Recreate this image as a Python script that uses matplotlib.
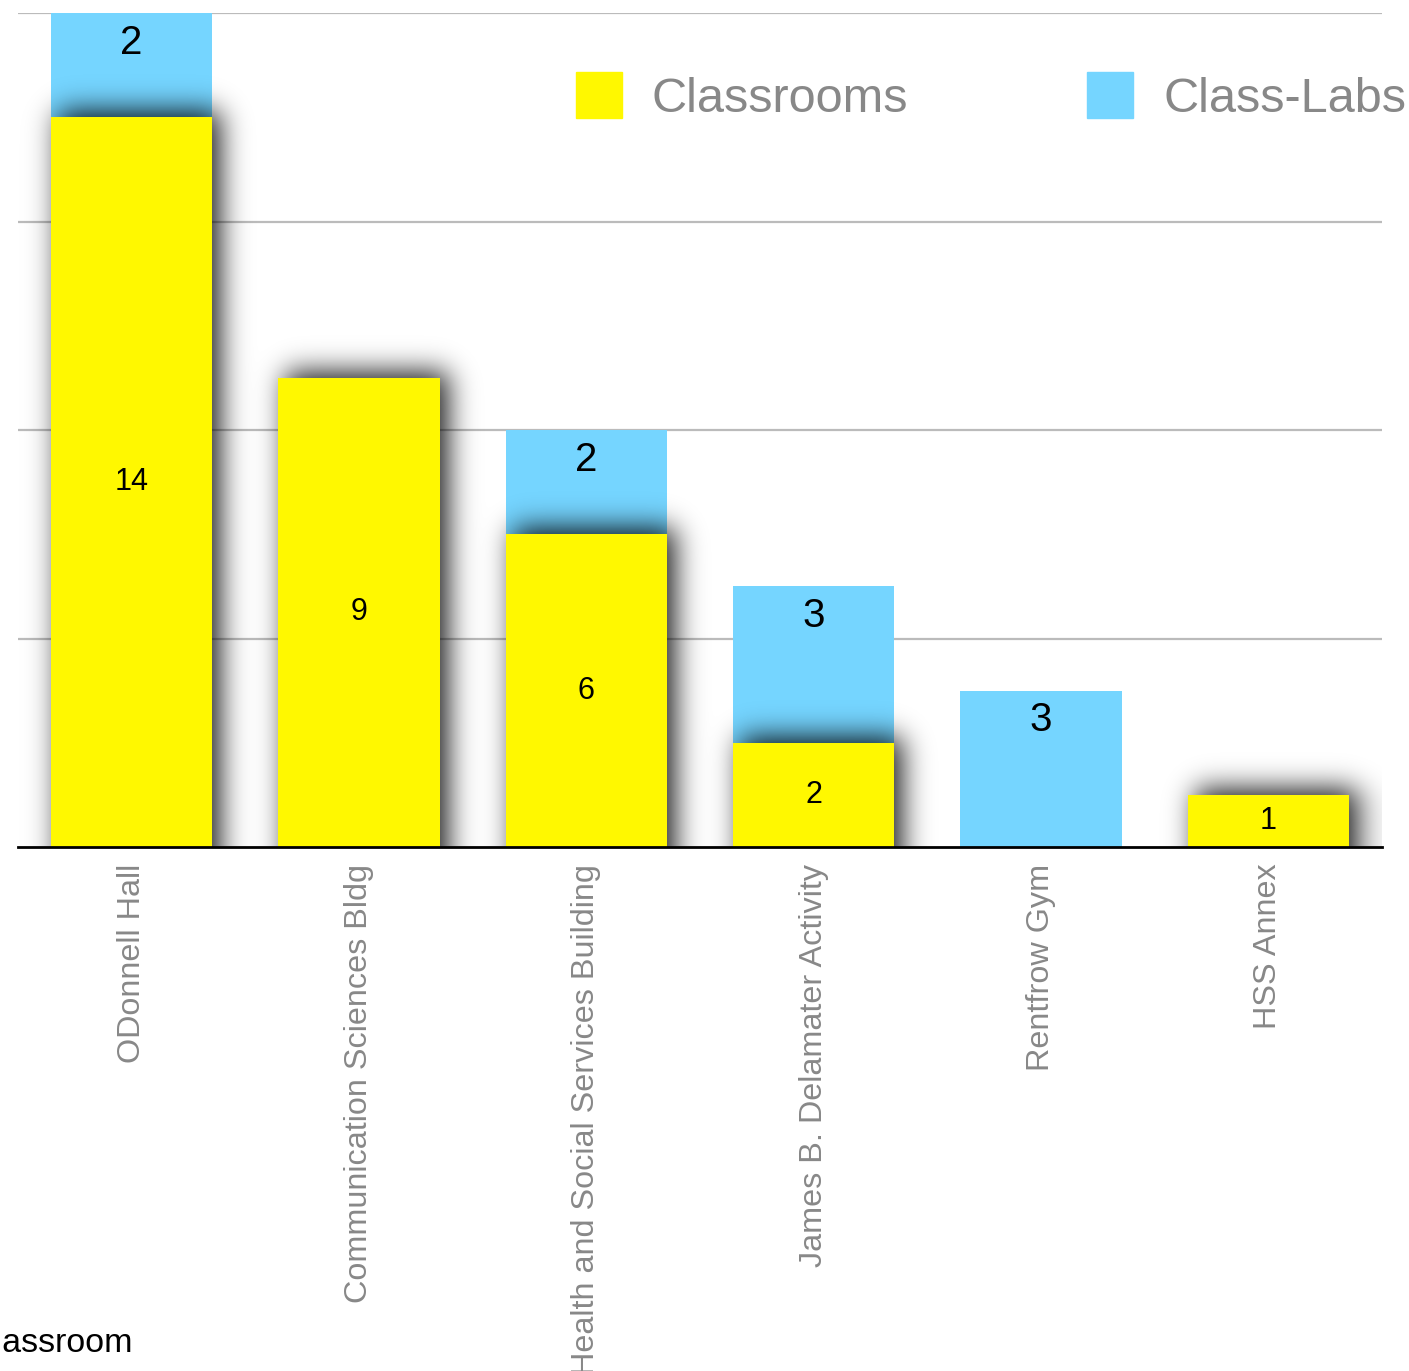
"""Stacked bars: classrooms vs class-labs per building, with a soft drop shadow."""
import numpy as np
import matplotlib
matplotlib.use('Agg')
import matplotlib.pyplot as plt
from matplotlib.patches import Rectangle

buildings = ['ODonnell Hall', 'Communication Sciences Bldg',
             'Health and Social Services Building', 'James B. Delamater Activity',
             'Rentfrow Gym', 'HSS Annex']
classrooms = [14, 9, 6, 2, 0, 1]
class_labs = [2, 0, 2, 3, 3, 0]

YELLOW = '#FFF800'
BLUE = '#75D5FF'
GRAY = '#888888'

plt.rcParams['font.family'] = ['Liberation Sans', 'DejaVu Sans']

W_PX, H_PX = 1409, 1371
fig = plt.figure(figsize=(W_PX / 100, H_PX / 100), dpi=100)
ax_left, ax_right, ax_top, ax_bot = 18, 1382, 13, 847
ax = fig.add_axes([ax_left / W_PX, 1 - ax_bot / H_PX,
                   (ax_right - ax_left) / W_PX, (ax_bot - ax_top) / H_PX])

x = np.arange(len(buildings))
width = 0.71
xlim = (-0.5, 5.5)
ylim = (0, 16)

# gridlines
ax.set_axisbelow(True)
ax.set_yticks([4, 8, 12, 16])
ax.yaxis.grid(True, color='#bbbbbb', lw=1.6)
ax.tick_params(axis='y', length=0, labelleft=False)

# blue segments sit on top of the yellow ones
ax.bar(x, class_labs, width, bottom=classrooms, color=BLUE, zorder=2)

# soft shadow behind the yellow bars, computed in pixel space
pw, ph = ax_right - ax_left, ax_bot - ax_top
cols = xlim[0] + (np.arange(pw) + 0.5) / pw * (xlim[1] - xlim[0])
rows = ylim[1] - (np.arange(ph) + 0.5) / ph * (ylim[1] - ylim[0])
shift_x, shift_y = 8 / pw * 6, 6 / ph * 16
mask = np.zeros((ph, pw))
for xi, v in zip(x, classrooms):
    if v <= 0:
        continue
    cm = (cols >= xi - width / 2 + shift_x) & (cols <= xi + width / 2 + shift_x)
    rm = (rows >= 0) & (rows <= v + shift_y)
    mask[np.ix_(rm, cm)] = 1.0


def gauss_matrix(n, s):
    idx = np.arange(n)
    k = np.exp(-((idx[:, None] - idx[None, :]) ** 2) / (2 * s * s))
    return k / k.sum(axis=1, keepdims=True)


sigma = 14
blur = gauss_matrix(ph, sigma) @ mask @ gauss_matrix(pw, sigma).T
alpha = np.clip(blur * 1.25, 0, 1) * 0.72
shadow = np.zeros((ph, pw, 4))
shadow[..., 3] = alpha
ax.imshow(shadow, extent=(*xlim, *ylim), aspect='auto',
          interpolation='bilinear', zorder=2.5)

ax.bar(x, classrooms, width, color=YELLOW, zorder=3)

# value labels
for xi, c, l in zip(x, classrooms, class_labs):
    if c > 0:
        ax.text(xi, c / 2, str(c), ha='center', va='center',
                fontsize=22, color='black', zorder=4)
    if l > 0:
        ax.annotate(str(l), (xi, c + l), xytext=(0, -21.5),
                    textcoords='offset points', ha='center', va='center',
                    fontsize=29, color='black', zorder=4)

ax.set_xlim(*xlim)
ax.set_ylim(*ylim)
for s in ['top', 'left', 'right']:
    ax.spines[s].set_visible(False)
ax.spines['bottom'].set_color('black')
ax.spines['bottom'].set_linewidth(2)
ax.spines['bottom'].set_zorder(5)

ax.set_xticks(x)
ax.set_xticklabels(buildings, rotation=90, color=GRAY, fontsize=23.3,
                   va='top', ha='center')
ax.tick_params(axis='x', length=0, pad=12)

# legend drawn by hand at the top right
for (sx, label, color) in [(576, 'Classrooms', YELLOW), (1087, 'Class-Labs', BLUE)]:
    fig.patches.append(Rectangle((sx / W_PX, 1 - 118 / H_PX), 46 / W_PX, 46 / H_PX,
                                 transform=fig.transFigure, color=color))
    fig.text((sx + 76) / W_PX, 1 - 99 / H_PX, label, color=GRAY,
             fontsize=35, va='center', ha='left')

# stray axis title, cut off at the left edge
fig.text(-30 / W_PX, 1 - 1343 / H_PX, 'Classroom', color='black',
         fontsize=24.5, va='center', ha='left')

fig.savefig('out.png', dpi=100)
